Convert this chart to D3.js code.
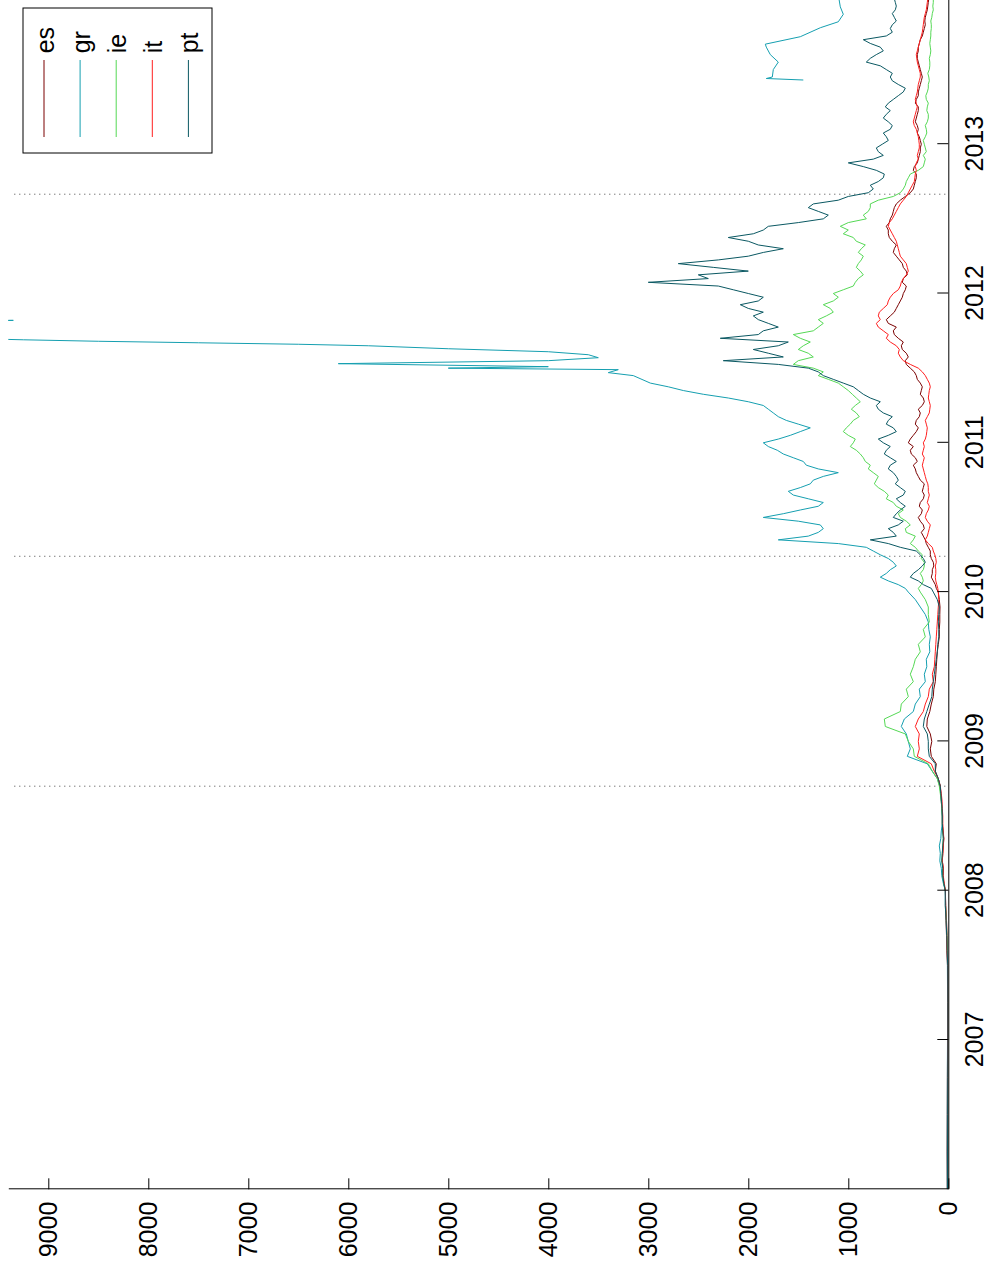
<!DOCTYPE html>
<meta charset="utf-8">
<style>
body { margin: 0; background: #fff; }
text { font-family: "Liberation Sans", Arial, sans-serif; }
</style>
<body></body>
<script src="https://d3js.org/d3.v7.min.js"></script>
<script>
// series names in plot order
const seriesNames = ['es', 'gr', 'ie', 'it', 'pt']

// decimal years shared by es, ie, it, pt
const dates = [
    2006.0, 2006.25, 2006.5, 2006.75, 2007.0, 2007.25, 2007.5, 2007.6, 2007.7, 2007.8, 2007.9,
    2008.00, 2008.05, 2008.10, 2008.15, 2008.20, 2008.25, 2008.30, 2008.35, 2008.40, 2008.45,
    2008.50, 2008.55, 2008.60, 2008.65, 2008.70, 2008.75, 2008.80, 2008.85, 2008.90, 2008.95,
    2009.00, 2009.05, 2009.10, 2009.15, 2009.20, 2009.25, 2009.30, 2009.35, 2009.40, 2009.45,
    2009.50, 2009.55, 2009.60, 2009.65, 2009.70, 2009.75, 2009.80, 2009.85, 2009.90, 2009.95,
    2010.000, 2010.025, 2010.050, 2010.075, 2010.100, 2010.125, 2010.150, 2010.175, 2010.200, 2010.225,
    2010.250, 2010.275, 2010.300, 2010.325, 2010.350, 2010.375, 2010.400, 2010.425, 2010.450, 2010.475,
    2010.500, 2010.525, 2010.550, 2010.575, 2010.600, 2010.625, 2010.650, 2010.675, 2010.700, 2010.725,
    2010.750, 2010.775, 2010.800, 2010.825, 2010.850, 2010.875, 2010.900, 2010.925, 2010.950, 2010.975,
    2011.000, 2011.025, 2011.050, 2011.075, 2011.100, 2011.125, 2011.150, 2011.175, 2011.200, 2011.225,
    2011.250, 2011.275, 2011.300, 2011.325, 2011.350, 2011.375, 2011.400, 2011.425, 2011.450, 2011.475,
    2011.500, 2011.525, 2011.550, 2011.575, 2011.600, 2011.625, 2011.650, 2011.675, 2011.700, 2011.725,
    2011.750, 2011.775, 2011.800, 2011.825, 2011.850, 2011.875, 2011.900, 2011.925, 2011.950, 2011.975,
    2012.000, 2012.025, 2012.050, 2012.075, 2012.100, 2012.125, 2012.150, 2012.175, 2012.200, 2012.225,
    2012.250, 2012.275, 2012.300, 2012.325, 2012.350, 2012.375, 2012.400, 2012.425, 2012.450, 2012.475,
    2012.500, 2012.525, 2012.550, 2012.575, 2012.600, 2012.625, 2012.650, 2012.675, 2012.700, 2012.725,
    2012.750, 2012.775, 2012.800, 2012.825, 2012.850, 2012.875, 2012.900, 2012.925, 2012.950, 2012.975,
    2013.000, 2013.025, 2013.050, 2013.075, 2013.100, 2013.125, 2013.150, 2013.175, 2013.200, 2013.225,
    2013.250, 2013.275, 2013.300, 2013.325, 2013.350, 2013.375, 2013.400, 2013.425, 2013.450, 2013.475,
    2013.500, 2013.525, 2013.550, 2013.575, 2013.600, 2013.625, 2013.650, 2013.675, 2013.700, 2013.725,
    2013.750, 2013.775, 2013.800, 2013.825, 2013.850, 2013.875, 2013.900, 2013.925, 2013.950, 2013.975,
    2014.000
]

const esValues = [
    3, 3, 4, 4, 3, 3, 4, 8, 12, 18, 25,
    30, 45, 55, 50, 60, 55, 50, 45, 55, 60, 60, 65, 70, 75, 80, 100, 130, 120, 170, 180,
    165, 180, 215, 210, 185, 170, 150, 145, 130, 125, 120, 115, 110, 100, 90, 90, 85, 85, 83, 90,
    100, 120, 130, 150, 170, 160, 160, 145, 150, 170, 180, 180, 200, 220, 230, 250, 270, 240, 250, 280,
    300, 270, 260, 290, 280, 250, 240, 260, 250, 240, 280, 300, 320, 330, 350, 310, 330, 370, 380, 350,
    400, 380, 350, 320, 300, 330, 320, 290, 280, 300, 260, 240, 250, 280, 270, 260, 280, 310, 320, 340,
    380, 420, 430, 400, 420, 460, 470, 450, 500, 540, 550, 520, 600, 620, 580, 540, 520, 500, 480, 460,
    450, 430, 420, 460, 450, 410, 420, 450, 460, 490, 520, 550, 540, 520, 560, 590, 600, 600, 620, 590,
    580, 560, 550, 540, 520, 480, 430, 380, 350, 340, 330, 320, 320, 350, 340, 310, 300, 290, 280, 280,
    270, 280, 290, 310, 300, 310, 330, 320, 310, 300, 300, 330, 320, 300, 300, 290, 280, 270, 260, 270,
    280, 290, 300, 310, 310, 300, 300, 290, 280, 260, 250, 240, 230, 235, 230, 220, 210, 205, 200, 195,
    190
]

const ieValues = [
    2, 2, 3, 3, 2, 2, 3, 10, 15, 20, 28,
    28, 45, 55, 55, 65, 60, 55, 50, 55, 60, 60, 65, 70, 80, 90, 110, 160, 200, 340, 350,
    400, 430, 630, 640, 480, 470, 400, 420, 350, 380, 350, 330, 280, 300, 230, 250, 190, 200, 200, 230,
    280, 300, 270, 250, 260, 280, 250, 240, 240, 270, 260, 300, 330, 380, 350, 330, 420, 430, 380, 420,
    480, 500, 450, 520, 550, 620, 600, 640, 700, 740, 720, 700, 750, 800, 780, 830, 850, 880, 920, 980,
    950, 930, 1000, 1050, 1020, 980, 950, 890, 920, 970, 930, 880, 920, 960, 1000, 1050, 1100, 1200, 1300, 1250,
    1350, 1550, 1500, 1350, 1400, 1500, 1450, 1380, 1480, 1550, 1350, 1300, 1250, 1300, 1220, 1150, 1180, 1250, 1150, 1100,
    1150, 1050, 950, 930, 900, 850, 880, 920, 900, 870, 850, 900, 870, 830, 920, 950, 1050, 1000, 1080, 1000,
    820, 850, 800, 780, 780, 700, 550, 480, 450, 430, 420, 400, 380, 300, 250, 240, 230, 250, 220, 230,
    240, 250, 230, 215, 220, 230, 210, 200, 200, 215, 210, 200, 220, 225, 210, 200, 200, 190, 195, 205,
    190, 185, 185, 190, 180, 175, 180, 185, 180, 175, 175, 170, 170, 175, 165, 160, 150, 155, 150, 150,
    150
]

const itValues = [
    10, 11, 10, 9, 7, 6, 8, 15, 18, 22, 28,
    28, 40, 50, 50, 60, 55, 50, 45, 50, 55, 55, 60, 62, 70, 80, 100, 140, 170, 310, 290,
    300, 290, 330, 300, 250, 230, 200, 190, 150, 160, 140, 135, 130, 125, 120, 115, 110, 105, 100, 95,
    100, 105, 115, 125, 130, 125, 125, 130, 120, 125, 135, 150, 160, 200, 230, 210, 200, 190, 180, 210,
    230, 220, 200, 190, 210, 200, 190, 200, 200, 205, 220, 230, 240, 250, 260, 250, 240, 260, 250, 240,
    250, 230, 220, 215, 210, 220, 230, 210, 190, 185, 180, 190, 200, 195, 190, 180, 190, 210, 230, 260,
    300, 380, 450, 480, 500, 490, 520, 580, 620, 600, 650, 700, 720, 680, 700, 690, 650, 610, 600, 580,
    550, 500, 480, 470, 450, 420, 400, 410, 420, 450, 480, 490, 500, 510, 520, 540, 560, 580, 600, 590,
    560, 540, 520, 500, 480, 450, 420, 400, 380, 360, 340, 335, 330, 320, 330, 320, 300, 310, 300, 290,
    290, 295, 300, 310, 320, 340, 350, 340, 330, 320, 310, 320, 330, 320, 310, 305, 300, 290, 280, 280,
    290, 300, 310, 315, 320, 310, 300, 290, 280, 270, 260, 255, 250, 245, 240, 230, 220, 215, 210, 205,
    200
]

const ptValues = [
    8, 8, 7, 6, 5, 5, 6, 12, 16, 22, 30,
    30, 45, 55, 55, 65, 60, 55, 50, 55, 60, 60, 62, 68, 75, 80, 100, 130, 130, 190, 200,
    200, 210, 250, 240, 215, 190, 165, 160, 150, 140, 130, 120, 110, 105, 95, 95, 100, 95, 90, 110,
    150, 170, 250, 300, 380, 350, 300, 260, 230, 250, 280, 320, 480, 600, 780, 520, 550, 600, 500, 450,
    550, 520, 480, 430, 480, 520, 450, 430, 480, 530, 500, 520, 550, 600, 580, 520, 580, 640, 620, 580,
    650, 700, 600, 520, 550, 620, 600, 560, 650, 700, 720, 680, 780, 850, 900, 950, 1050, 1150, 1250, 1300,
    1400, 1700, 2250, 1650, 1800, 1950, 1700, 1600, 2280, 1900, 1850, 1700, 1800, 1900, 1950, 1850, 2000, 2080, 1900, 1850,
    2000, 2150, 2300, 3000, 2400, 2500, 2000, 2350, 2700, 2300, 2000, 1850, 1650, 1900, 2000, 2200, 1950, 1850, 1800, 1500,
    1250, 1200, 1300, 1400, 1350, 1100, 1000, 800, 750, 780, 700, 650, 640, 720, 850, 1000, 750, 650, 700, 720,
    660, 600, 620, 650, 580, 560, 600, 650, 620, 580, 630, 600, 550, 500, 450, 430, 500, 560, 580, 560,
    620, 680, 820, 780, 720, 650, 680, 780, 850, 620, 560, 580, 560, 520, 540, 560, 530, 520, 530, 540,
    530
]

// gr has its own dates after mid 2011: denser there, and a gap in 2012-2013
const grDates = dates.slice(0, 108).concat([
    2011.45, 2011.47, 2011.49, 2011.50, 2011.51, 2011.53, 2011.55, 2011.57, 2011.59, 2011.61,
    2011.63, 2011.65, 2011.66, 2011.67, 2011.68, 2011.69, 2011.71, 2011.78, 2011.82, 2011.84,
    2011.95, 2012.05, 2012.10,
    2013.43, 2013.44, 2013.45, 2013.50, 2013.55, 2013.60, 2013.65, 2013.67, 2013.72, 2013.78,
    2013.82, 2013.87, 2013.92, 2014.00
])

const grValues = [
    12, 14, 12, 10, 8, 7, 9, 15, 18, 22, 30,
    30, 50, 65, 70, 85, 80, 90, 75, 70, 60, 60, 65, 70, 75, 85, 110, 160, 210, 410, 380,
    400, 420, 470, 440, 350, 330, 280, 290, 230, 240, 215, 220, 185, 190, 180, 195, 200, 230, 280, 330,
    400, 430, 500, 600, 680, 620, 580, 520, 550, 600, 680, 750, 820, 1100, 1700, 1400, 1300, 1250, 1280, 1500,
    1850, 1650, 1480, 1300, 1250, 1400, 1550, 1600, 1480, 1380, 1350, 1250, 1100, 1300, 1420, 1450, 1550, 1650, 1710, 1800,
    1850, 1700, 1580, 1480, 1380, 1500, 1620, 1700, 1750, 1800, 1850, 2000, 2200, 2450, 2650, 2800, 2980,
    3150, 3400, 3300, 5000, 4000, 6100, 4000, 3500, 3600, 4000,
    5000, 5800, 6500, 7500, 8500, 9250, 10500, 12000, 9350, 13000,
    18000, 25000, null,
    1450, 1820, 1760, 1750, 1700, 1780, 1820, 1830, 1480, 1280,
    1100, 1050, 1080, 1100
]

const yearTicks = [2007, 2008, 2009, 2010, 2011, 2012, 2013]
const valueTicks = [0, 1000, 2000, 3000, 4000, 5000, 6000, 7000, 8000, 9000]
const eventDates = [2008.70, 2010.24, 2012.665]

const colors = {
    es: '#7a0000',
    gr: '#159fb0',
    ie: '#55d855',
    it: '#ff1f1f',
    pt: '#0a5862'
}

function zipSeries (ds, vs) {
    if (ds.length !== vs.length) console.warn('length mismatch', ds.length, vs.length)
    return ds.map((t, i) => ({ t, v: vs[i] }))
}

const series = [
    { name: 'es', values: zipSeries(dates, esValues) },
    { name: 'gr', values: zipSeries(grDates, grValues) },
    { name: 'ie', values: zipSeries(dates, ieValues) },
    { name: 'it', values: zipSeries(dates, itValues) },
    { name: 'pt', values: zipSeries(dates, ptValues) }
]

// the chart is built upright (time across, value up) and then turned a quarter left
const L = 1194.4
const H = 940

const x = d3.scaleLinear().domain([2006, 2014]).range([0, L])
const y = d3.scaleLinear().domain([0, 9400]).range([H, 0])

const svg = d3.select('body')
    .append('svg')
        .attr('width', 989)
        .attr('height', 1270)
        .style('display', 'block')

svg.append('rect')
    .attr('width', 989)
    .attr('height', 1270)
    .attr('fill', '#fff')

const g = svg.append('g')
    .attr('transform', 'translate(8.3,1189.3) rotate(-90)')

g.append('clipPath')
    .attr('id', 'plot-clip')
    .append('rect')
        .attr('width', L)
        .attr('height', H)

const plot = g.append('g').attr('clip-path', 'url(#plot-clip)')

plot.selectAll('.event')
    .data(eventDates)
    .enter().append('line')
        .attr('class', 'event')
        .attr('x1', d => x(d))
        .attr('x2', d => x(d))
        .attr('y1', y(30))
        .attr('y2', y(9360))
        .attr('stroke', '#444')
        .attr('stroke-width', 1)
        .attr('stroke-dasharray', '1,4')

const line = d3.line()
    .defined(d => d.v != null)
    .x(d => x(d.t))
    .y(d => y(d.v))

plot.selectAll('.series')
    .data(series)
    .enter().append('path')
        .attr('class', 'series')
        .attr('fill', 'none')
        .attr('stroke', d => colors[d.name])
        .attr('stroke-width', 1)
        .attr('stroke-linejoin', 'round')
        .attr('d', d => line(d.values))

const xAxis = d3.axisBottom(x)
    .tickValues(yearTicks)
    .tickFormat(d3.format('d'))
    .tickSizeInner(-11)
    .tickSizeOuter(0)
    .tickPadding(17)

const yAxis = d3.axisLeft(y)
    .tickValues(valueTicks)
    .tickFormat(d3.format('d'))
    .tickSizeInner(-11)
    .tickSizeOuter(0)
    .tickPadding(12.4)

const gx = g.append('g')
    .attr('transform', `translate(0,${H})`)
    .call(xAxis)

const gy = g.append('g')
    .call(yAxis)

for (const a of [gx, gy]) {
    a.attr('font-size', 25).attr('font-family', '"Liberation Sans", Arial, sans-serif')
    a.selectAll('text').attr('fill', '#000')
    a.selectAll('line, path').attr('stroke', '#000')
}

// legend
const legend = g.append('g')

legend.append('rect')
    .attr('x', 1036.3)
    .attr('y', 14.7)
    .attr('width', 145)
    .attr('height', 189)
    .attr('fill', '#fff')
    .attr('stroke', '#000')

const item = legend.selectAll('.item')
    .data(seriesNames)
    .enter().append('g')
        .attr('class', 'item')
        .attr('transform', (d, i) => `translate(0,${35.7 + 36.1 * i})`)

item.append('line')
    .attr('x1', 1052.3)
    .attr('x2', 1129.3)
    .attr('stroke', d => colors[d])
    .attr('stroke-width', 1)

item.append('text')
    .attr('x', 1136)
    .attr('y', 9.5)
    .attr('font-size', 25)
    .attr('fill', '#000')
    .text(d => d)
</script>
